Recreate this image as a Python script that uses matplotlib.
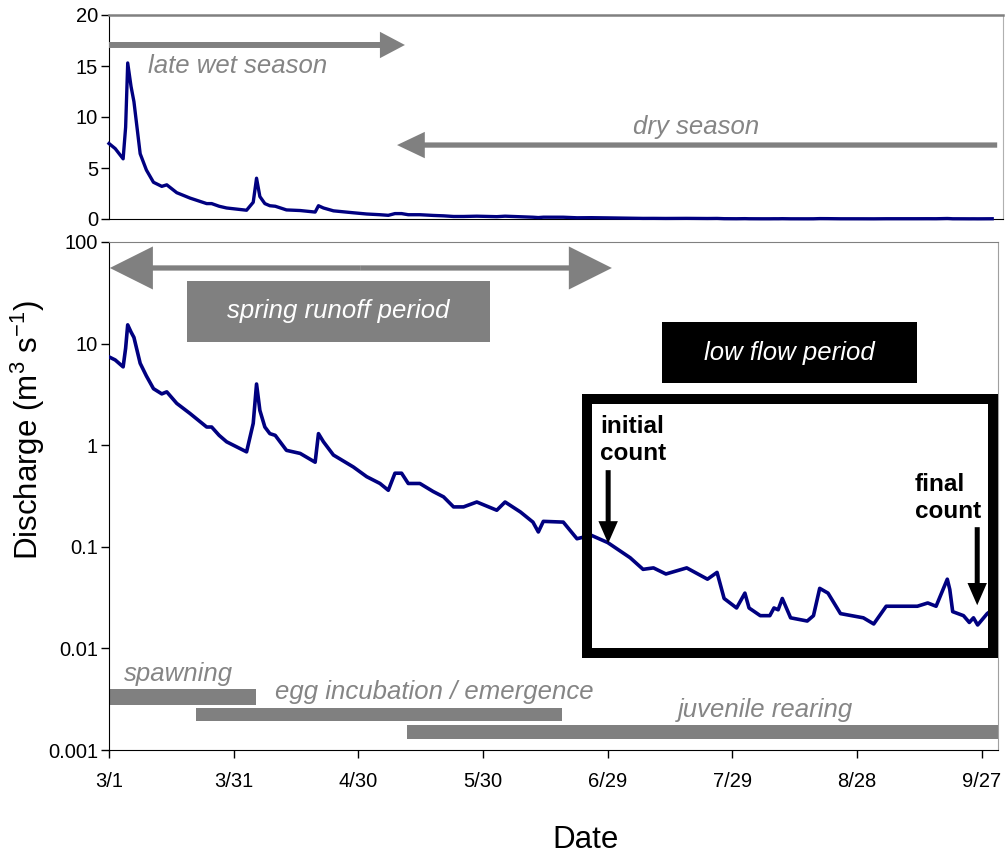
import numpy as np
import matplotlib
matplotlib.use("Agg")
import matplotlib.pyplot as plt
from matplotlib.patches import Rectangle
from matplotlib.ticker import NullLocator

days = [0, 1.5, 3.4, 4.0, 4.5, 5.3, 6.0, 7.5, 9.0, 10.7, 12.7, 13.9, 16.3, 19.5,
        23.5, 24.7, 26.5, 28.3, 33.1, 34.7, 35.5, 36.3, 37.5, 38.7, 40.0, 42.7,
        46.0, 49.6, 50.4, 51.6, 54.0, 58.8, 62.0, 65.2, 67.2, 68.8, 70.4, 72.0,
        74.8, 78.0, 80.5, 82.9, 85.3, 88.5, 93.3, 95.3, 99.0, 102.0, 103.3, 104.5,
        109.3, 112.6, 116.0, 120.0, 125.4, 128.5, 131.0, 134.0, 139.0, 144.0,
        146.3, 148.0, 151.0, 153.0, 154.0, 156.7, 159.0, 160.0, 161.0, 162.0,
        164.0, 168.0, 169.5, 171.0, 173.0, 176.0, 181.5, 184.0, 187.0, 194.5,
        197.0, 199.0, 201.7, 202.3, 203.0, 205.6, 207.0, 208.0, 209.0, 211.3, 212.5]
discharge = [7.4, 6.9, 5.9, 9.0, 15.3, 13.0, 11.5, 6.4, 4.8, 3.6, 3.2, 3.35, 2.58, 2.05,
             1.51, 1.51, 1.25, 1.08, 0.86, 1.64, 4.0, 2.2, 1.51, 1.30, 1.25, 0.89,
             0.83, 0.68, 1.30, 1.08, 0.80, 0.61, 0.49, 0.42, 0.36, 0.53, 0.53, 0.42,
             0.42, 0.35, 0.31, 0.247, 0.247, 0.276, 0.229, 0.276, 0.22, 0.175, 0.14, 0.178,
             0.175, 0.12, 0.13, 0.11, 0.078, 0.06, 0.062, 0.054, 0.062, 0.048,
             0.056, 0.031, 0.025, 0.035, 0.025, 0.021, 0.021, 0.025, 0.024, 0.031,
             0.020, 0.0186, 0.021, 0.039, 0.035, 0.022, 0.020, 0.0174, 0.026, 0.026,
             0.028, 0.026, 0.048, 0.038, 0.023, 0.021, 0.018, 0.020, 0.017, 0.022, 0.024]

tick_days = [0, 30, 60, 90, 120, 150, 180, 210]
tick_labels = ['3/1', '3/31', '4/30', '5/30', '6/29', '7/29', '8/28', '9/27']

# life stage bars: (start day, end day, low, high)
stage_names = ['spawning', 'egg incubation / emergence', 'juvenile rearing']
stage_start = [0, 20.9, 71.7]
stage_end = [35.4, 109.0, 213.9]
stage_low = [0.0028, 0.00191, 0.00127]
stage_high = [0.00394, 0.00262, 0.00178]

GREY = '#808080'
TXTGREY = '#858585'
NAVY = '#000080'

plt.rcParams['font.family'] = ['Liberation Sans', 'DejaVu Sans']
plt.rcParams['mathtext.fontset'] = 'custom'
plt.rcParams['mathtext.rm'] = 'Liberation Sans'
plt.rcParams['mathtext.it'] = 'Liberation Sans:italic'
TICKFONT = ['Liberation Sans Narrow', 'Liberation Sans', 'DejaVu Sans']

W, H = 1005, 855
fig = plt.figure(figsize=(W / 100, H / 100), dpi=100)
ax_top = fig.add_axes([109 / W, 1 - 219 / H, (1003 - 109) / W, (219 - 15) / H])
ax = fig.add_axes([109 / W, 1 - 750 / H, (998 - 109) / W, (750 - 242) / H])

# ---- top panel, linear
ax_top.plot(days, discharge, color=NAVY, lw=2.4, clip_on=False, zorder=3)
ax_top.set_xlim(0, 215.1)
ax_top.set_ylim(0, 20)
ax_top.set_yticks([0, 5, 10, 15, 20])
ax_top.tick_params(axis='x', length=0, labelbottom=False)
ax_top.tick_params(axis='y', length=6, width=1, pad=2)
for lab in ax_top.get_yticklabels():
    lab.set_family(TICKFONT)
    lab.set_fontsize(14.5)
ax_top.spines['top'].set_color(GREY)
ax_top.spines['top'].set_linewidth(1.8)
ax_top.spines['right'].set_color('#b0b0b0')

def grey_arrow(axis, x0, x1, y, shaft, hw, hl, color=GREY):
    axis.annotate('', xy=(x1, y), xytext=(x0, y),
                  arrowprops=dict(facecolor=color, edgecolor='none', width=shaft,
                                  headwidth=hw, headlength=hl, shrink=0))

grey_arrow(ax_top, 0, 71.2, 17.06, 4.3, 19, 18)
grey_arrow(ax_top, 213.7, 69.3, 7.25, 3.8, 19, 20)
ax_top.text(31.0, 15.0, 'late wet season', style='italic', color=TXTGREY,
            fontsize=18.5, ha='center', va='center')
ax_top.text(141.2, 9.0, 'dry season', style='italic', color=TXTGREY,
            fontsize=18.5, ha='center', va='center')

# ---- bottom panel, log
ax.plot(days, discharge, color=NAVY, lw=2.6, zorder=3)
ax.set_yscale('log')
ax.set_ylim(0.001, 100)
ax.set_xlim(0, 213.9)
ax.set_yticks([0.001, 0.01, 0.1, 1, 10, 100])
ax.set_yticklabels(['0.001', '0.01', '0.1', '1', '10', '100'])
ax.yaxis.set_minor_locator(NullLocator())
ax.set_xticks(tick_days)
ax.set_xticklabels(tick_labels)
ax.tick_params(axis='y', length=6, width=1, pad=2)
ax.tick_params(axis='x', length=6, width=1, pad=10)
for lab in ax.get_yticklabels() + ax.get_xticklabels():
    lab.set_family(TICKFONT)
    lab.set_fontsize(14.5)
ax.spines['top'].set_color(GREY)
ax.spines['right'].set_color('#a0a0a0')

# spring runoff double arrow
mid = (0.2 + 121.0) / 2
grey_arrow(ax, mid, 0.2, 55.5, 3.8, 31, 31)
grey_arrow(ax, mid, 121.0, 55.5, 3.8, 31, 31)

ax.fill_between([18.8, 91.7], 10.4, 41.3, color=GREY, lw=0)
ax.text(55.2, 20.7, 'spring runoff period', style='italic', color='white',
        fontsize=18.5, ha='center', va='center')
ax.fill_between([133.1, 194.5], 4.08, 16.3, color='black', lw=0)
ax.text(163.7, 8.17, 'low flow period', style='italic', color='white',
        fontsize=18.5, ha='center', va='center')

ax.add_patch(Rectangle((115.0, 0.00893), 212.8 - 115.0, 2.84 - 0.00893,
                       fill=False, ec='black', lw=7.2, joinstyle='miter',
                       clip_on=False, zorder=4))

ax.text(118.1, 1.12, 'initial\ncount', fontweight='bold', fontsize=17.5,
        ha='left', va='center', linespacing=1.25, zorder=5)
ax.text(193.9, 0.302, 'final\ncount', fontweight='bold', fontsize=17.5,
        ha='left', va='center', linespacing=1.25, zorder=5)
ax.annotate('', xy=(120.1, 0.108), xytext=(120.1, 0.568),
            arrowprops=dict(facecolor='black', edgecolor='none', width=3.6,
                            headwidth=14, headlength=16, shrink=0), zorder=5)
ax.annotate('', xy=(208.9, 0.0266), xytext=(208.9, 0.156),
            arrowprops=dict(facecolor='black', edgecolor='none', width=3.6,
                            headwidth=14, headlength=16, shrink=0), zorder=5)

# life stages
for name, s, e, lo, hi in zip(stage_names, stage_start, stage_end, stage_low, stage_high):
    ax.broken_barh([(s, e - s)], (lo, hi - lo), color=GREY, lw=0)
ax.text(16.8, 0.0056, stage_names[0], style='italic', color=TXTGREY,
        fontsize=18.5, ha='center', va='center')
ax.text(78.3, 0.00372, stage_names[1], style='italic', color=TXTGREY,
        fontsize=18.5, ha='center', va='center')
ax.text(158.0, 0.00248, stage_names[2], style='italic', color=TXTGREY,
        fontsize=18.5, ha='center', va='center')

fig.text(586 / W, 1 - 840 / H, 'Date', fontsize=22.5, ha='center', va='center')
fig.text(28 / W, 1 - 430 / H, 'Discharge (m$^{3}$ s$^{-1}$)', fontsize=22.5,
         rotation=90, ha='center', va='center')

fig.savefig('out.png', dpi=100)
